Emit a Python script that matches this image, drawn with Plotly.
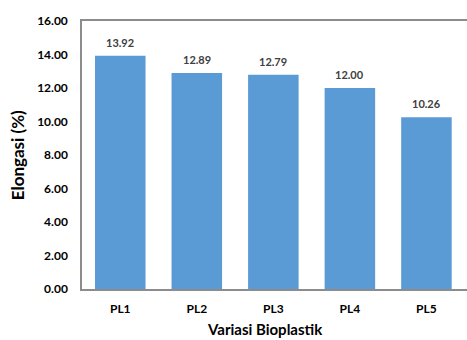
import plotly.graph_objects as go

# Elongation per bioplastic variant
categories = ["PL1", "PL2", "PL3", "PL4", "PL5"]
elongation = [13.92, 12.89, 12.79, 12.00, 10.26]
y_ticks = [0, 2, 4, 6, 8, 10, 12, 14, 16]

FONT = "Lato"
BAR_COLOR = "#5B9BD5"
AXIS_COLOR = "#8C8C8C"

fig = go.Figure(
    go.Bar(
        x=categories,
        y=elongation,
        marker=dict(color=BAR_COLOR, line=dict(width=0)),
        hoverinfo="x+y",
    )
)

# value labels floating above each bar
value_labels = [
    dict(
        x=c, y=v, xref="x", yref="y",
        text=f"<b>{v:.2f}</b>", showarrow=False,
        yanchor="bottom", yshift=5,
        font=dict(family=FONT, size=11, color="#404040"),
    )
    for c, v in zip(categories, elongation)
]

fig.update_layout(
    width=467,
    height=340,
    margin=dict(l=82, r=0, t=21, b=51),
    paper_bgcolor="white",
    plot_bgcolor="white",
    bargap=0.34,
    showlegend=False,
    annotations=value_labels + [
        dict(
            text="<b>Elongasi (%)</b>", textangle=-90,
            xref="paper", yref="paper", x=-0.168, y=0.5,
            xanchor="center", yanchor="middle", showarrow=False,
            font=dict(family=FONT, size=17, color="black"),
        ),
        dict(
            text="<b>Variasi Bioplastik</b>",
            xref="paper", yref="paper", x=0.475, y=-0.15,
            xanchor="center", yanchor="middle", showarrow=False,
            font=dict(family=FONT, size=15, color="black"),
        ),
    ],
)

fig.update_xaxes(
    range=[-0.5, 4.53],
    showline=True, linecolor=AXIS_COLOR, linewidth=1.5, mirror=True,
    showgrid=False, ticks="",
    tickfont=dict(family=FONT, size=12, color="black", weight="bold"),
    ticklabelstandoff=8,
)
fig.update_yaxes(
    range=[0, 16],
    tickvals=y_ticks,
    ticktext=[f"{v:.2f}" for v in y_ticks],
    showline=True, linecolor=AXIS_COLOR, linewidth=1.5,
    showgrid=False, zeroline=False, ticks="",
    tickfont=dict(family=FONT, size=12, color="black", weight="bold"),
    ticklabelstandoff=10,
)

fig.write_html("out.html")
